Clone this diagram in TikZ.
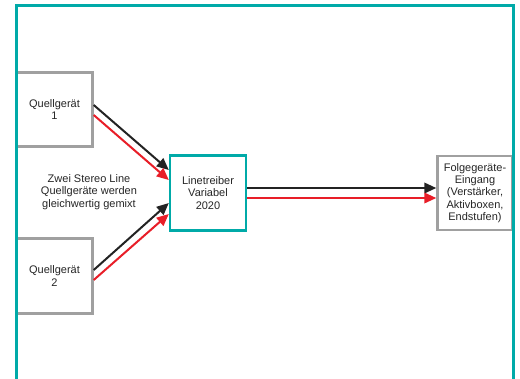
\documentclass[tikz,border=0pt]{standalone}
\usepackage{fontspec}
\setmainfont{Liberation Sans}
\usetikzlibrary{calc,arrows.meta}
\definecolor{frameteal}{RGB}{0,170,168}
\definecolor{boxgray}{RGB}{160,160,160}
\definecolor{sigred}{RGB}{232,30,40}
\definecolor{sigblack}{RGB}{35,35,35}
\begin{document}
\begin{tikzpicture}[x=1pt,y=-1pt,
  txt/.style={font=\fontsize{11}{12.2}\selectfont,align=center,text=black!85},
  unit/.style={txt,draw=boxgray,line width=2.4pt,fill=white,inner sep=0pt},
  driver/.style={unit,draw=frameteal},
  frame/.style={draw=frameteal,line width=2.6pt},
  sig/.style={line width=2pt,-{Triangle[length=12pt,width=10.5pt]}},
  left/.style={sig,draw=sigblack,fill=sigblack},
  right/.style={sig,draw=sigred,fill=sigred}]
  \useasboundingbox (0,0) rectangle (520,378);
  \clip (0,0) rectangle (520,378);

  % devices
  \node[unit,minimum width=76pt,minimum height=74pt] (q1) at (54.5,109.5) {Quellgerät\\1};
  \node[unit,minimum width=76pt,minimum height=75pt] (q2) at (54.5,276) {Quellgerät\\2};
  \node[driver,minimum width=76pt,minimum height=75pt] (lt) at (208,193) {Linetreiber\\Variabel\\2020};
  \node[unit,minimum width=75pt,minimum height=74pt] (fg) at (475,193) {Folgegeräte-\\Eingang\\(Verstärker,\\Aktivboxen,\\Endstufen)};
  \node[txt] (note) at (89,192) {Zwei Stereo Line\\Quellgeräte werden\\gleichwertig gemixt};

  % stereo signal paths (left channel black, right channel red)
  \draw[left]  ($(q1.east)+(0,-4.5)$) -- ($(lt.west)+(0,-23)$);
  \draw[right] ($(q1.east)+(0,5.5)$)  -- ($(lt.west)+(0,-13)$);
  \draw[left]  ($(q2.east)+(0,-6)$)   -- ($(lt.west)+(0,10)$);
  \draw[right] ($(q2.east)+(0,4)$)    -- ($(lt.west)+(0,21)$);
  \draw[left]  ($(lt.east)+(0,-5)$)   -- ($(fg.west)+(0,-5)$);
  \draw[right] ($(lt.east)+(0,5)$)    -- ($(fg.west)+(0,5)$);

  % outer frame, open at the bottom
  \draw[frame] (16.3,400) -- (16.3,5.3) -- (513.3,5.3) -- (513.3,400);
\end{tikzpicture}
\end{document}
